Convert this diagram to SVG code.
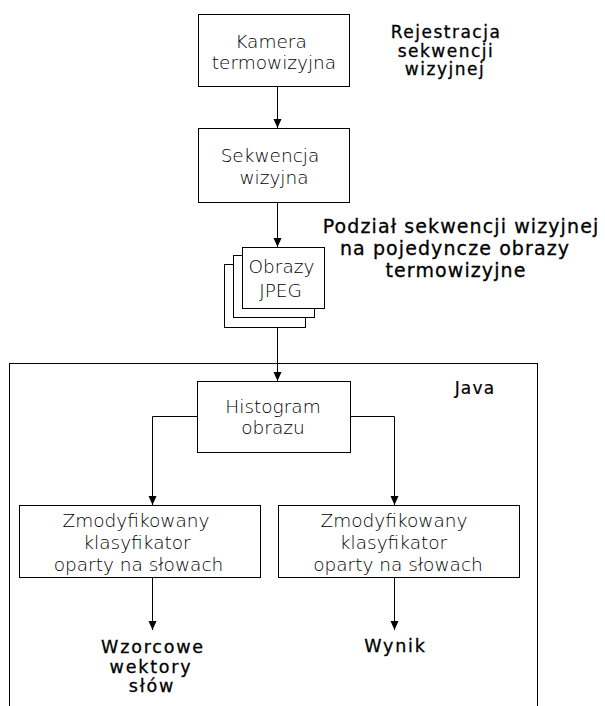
<svg xmlns="http://www.w3.org/2000/svg" width="605" height="706" viewBox="0 0 605 706">
<defs>
<marker id="ah" markerUnits="userSpaceOnUse" markerWidth="9" markerHeight="9" refX="9" refY="4" orient="auto" overflow="visible">
<path d="M0,0 L9,4 L0,8 z" fill="#000"/>
</marker>
<style>
.box{fill:#fff;stroke:#000;stroke-width:1}
.nt{font-family:"DejaVu Sans","Verdana",sans-serif;font-size:18.5px;font-weight:200;fill:#000;text-anchor:middle}
.tt{font-family:"DejaVu Sans","Verdana",sans-serif;font-weight:normal;fill:#000;stroke:#000;stroke-width:0.3;text-anchor:middle}
.con{fill:none;stroke:#000;stroke-width:1;marker-end:url(#ah)}
</style>
</defs>
<rect width="605" height="706" fill="#fff"/>

<g id="java">
<rect class="box" x="9.5" y="363.5" width="528" height="400"/>
<text class="tt" x="475" y="394" style="font-size:17px;letter-spacing:1.2px;stroke-width:0.2">Java</text>
</g>

<g id="title1">
<text class="tt" style="font-size:17px;letter-spacing:1.5px" x="446" y="38">Rejestracja</text>
<text class="tt" style="font-size:17px;letter-spacing:1.5px" x="446" y="56.5">sekwencji</text>
<text class="tt" style="font-size:17px;letter-spacing:1.5px" x="445" y="75">wizyjnej</text>
</g>

<g id="title2">
<text class="tt" style="font-size:19px;letter-spacing:1.1px" x="461" y="233">Podział sekwencji wizyjnej</text>
<text class="tt" style="font-size:19px;letter-spacing:1.1px" x="455" y="255">na pojedyncze obrazy</text>
<text class="tt" style="font-size:19px;letter-spacing:1.1px" x="456" y="277">termowizyjne</text>
</g>

<g id="kamera">
<rect class="box" x="198.5" y="14.5" width="151" height="72"/>
<text class="nt" x="271" y="48">Kamera</text>
<text class="nt" x="274" y="69">termowizyjna</text>
</g>

<g id="sekwencja">
<rect class="box" x="198.5" y="128.5" width="151" height="74"/>
<text class="nt" x="270" y="162">Sekwencja</text>
<text class="nt" x="274" y="184">wizyjna</text>
</g>

<g id="obrazy">
<rect class="box" x="224.5" y="264.5" width="81" height="63"/>
<rect class="box" x="233.5" y="255.5" width="81" height="62"/>
<rect class="box" x="242.5" y="247.5" width="82" height="61"/>
<text class="nt" x="281.5" y="273">Obrazy</text>
<text class="nt" x="280.5" y="297">JPEG</text>
</g>

<g id="histogram">
<rect class="box" x="197.5" y="381.5" width="153" height="71"/>
<text class="nt" x="273" y="413">Histogram</text>
<text class="nt" x="273" y="434">obrazu</text>
</g>

<g id="klas1">
<rect class="box" x="19.5" y="505.5" width="241" height="72"/>
<text class="nt" x="136" y="527">Zmodyfikowany</text>
<text class="nt" x="137" y="549">klasyfikator</text>
<text class="nt" x="138.5" y="571">oparty na słowach</text>
</g>

<g id="klas2">
<rect class="box" x="278.5" y="505.5" width="241" height="72"/>
<text class="nt" x="394" y="527">Zmodyfikowany</text>
<text class="nt" x="393.5" y="549">klasyfikator</text>
<text class="nt" x="398" y="571">oparty na słowach</text>
</g>

<g id="wzorcowe">
<text class="tt" style="font-size:17.5px;letter-spacing:1.8px" x="153" y="653">Wzorcowe</text>
<text class="tt" style="font-size:17.5px;letter-spacing:1.8px" x="151" y="673">wektory</text>
<text class="tt" style="font-size:17.5px;letter-spacing:1.8px" x="152" y="692">słów</text>
</g>

<g id="wynik">
<text class="tt" style="font-size:17.5px;letter-spacing:1.8px" x="395.5" y="652">Wynik</text>
</g>

<g id="connectors">
<path class="con" d="M277.5,86.5 V128"/>
<path class="con" d="M277.5,202.5 V247"/>
<path class="con" d="M277.5,327.5 V381"/>
<path class="con" d="M197.5,416.5 H152.5 V505"/>
<path class="con" d="M350.5,416.5 H394.5 V505"/>
<path class="con" d="M152.5,577.5 V630"/>
<path class="con" d="M394.5,577.5 V630"/>
</g>
</svg>
